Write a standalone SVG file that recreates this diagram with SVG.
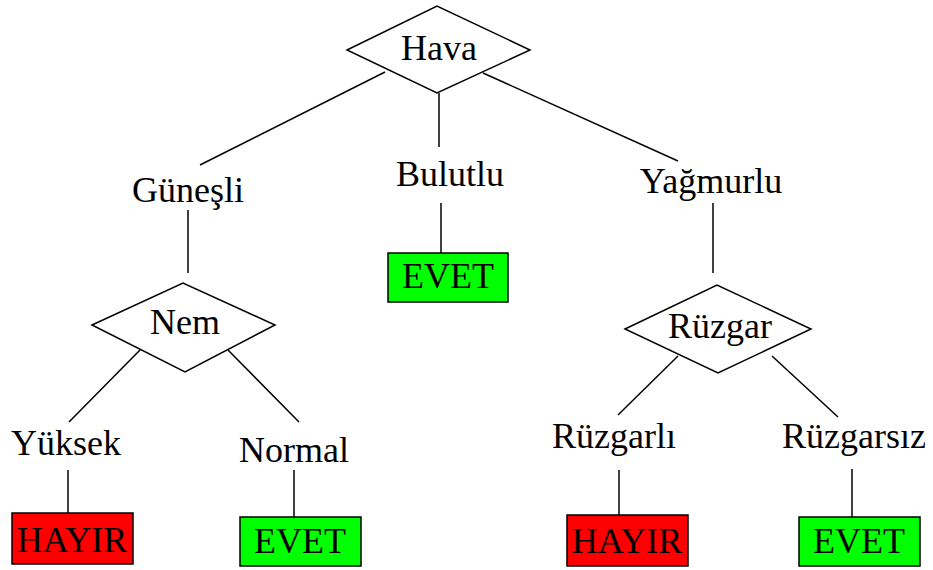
<svg xmlns="http://www.w3.org/2000/svg" width="933" height="570" viewBox="0 0 933 570">
<style>
text{font-family:'Liberation Serif','Times New Roman','DejaVu Serif',serif;font-size:36px;fill:#000;text-anchor:middle}
.d{fill:#fff;stroke:#000;stroke-width:1.5}
.l{stroke:#000;stroke-width:1.5;fill:none}
.r{fill:#f00;stroke:#000;stroke-width:1.5}
.g{fill:#0f0;stroke:#000;stroke-width:1.5}
</style>
<rect width="933" height="570" fill="#fff"/>
<g id="connectors">
<line class="l" x1="385" y1="72" x2="200" y2="165"/>
<line class="l" x1="439" y1="93" x2="439" y2="147"/>
<line class="l" x1="483" y1="73" x2="678" y2="161"/>
<line class="l" x1="188" y1="210" x2="188" y2="273"/>
<line class="l" x1="441" y1="203" x2="441" y2="253"/>
<line class="l" x1="713" y1="203" x2="713" y2="273"/>
<line class="l" x1="140" y1="350" x2="69" y2="422"/>
<line class="l" x1="228" y1="350" x2="299" y2="422"/>
<line class="l" x1="678" y1="356" x2="618" y2="415"/>
<line class="l" x1="772" y1="356" x2="838" y2="417"/>
<line class="l" x1="68" y1="470" x2="68" y2="513"/>
<line class="l" x1="294" y1="470" x2="294" y2="517"/>
<line class="l" x1="619" y1="470" x2="619" y2="515"/>
<line class="l" x1="852" y1="469" x2="852" y2="517"/>
</g>
<g id="hava">
<polygon class="d" points="347,50 437,6 530,50 437,93"/>
<text x="439" y="60" font-family="'Liberation Serif', serif">Hava</text>
</g>
<g id="gunesli"><text x="188" y="202">Güneşli</text></g>
<g id="bulutlu"><text x="450" y="186">Bulutlu</text></g>
<g id="yagmurlu"><text x="711" y="193">Yağmurlu</text></g>
<g id="evet1">
<rect class="g" x="388" y="253" width="120" height="49"/>
<text x="448" y="288">EVET</text>
</g>
<g id="nem">
<polygon class="d" points="92,325 183,283 275,325 185,372"/>
<text x="185" y="334">Nem</text>
</g>
<g id="ruzgar">
<polygon class="d" points="625,329 717,285 811,329 718,373"/>
<text x="720" y="338">Rüzgar</text>
</g>
<g id="yuksek"><text x="66" y="455">Yüksek</text></g>
<g id="normal"><text x="294" y="462">Normal</text></g>
<g id="ruzgarli"><text x="614" y="448">Rüzgarlı</text></g>
<g id="ruzgarsiz"><text x="854" y="448">Rüzgarsız</text></g>
<g id="hayir1">
<rect class="r" x="12" y="513" width="121" height="51"/>
<text x="72" y="552">HAYIR</text>
</g>
<g id="evet2">
<rect class="g" x="240" y="517" width="121" height="49"/>
<text x="300" y="553">EVET</text>
</g>
<g id="hayir2">
<rect class="r" x="567" y="515" width="121" height="51"/>
<text x="627" y="553">HAYIR</text>
</g>
<g id="evet3">
<rect class="g" x="799" y="517" width="121" height="49"/>
<text x="859" y="553">EVET</text>
</g>
</svg>
